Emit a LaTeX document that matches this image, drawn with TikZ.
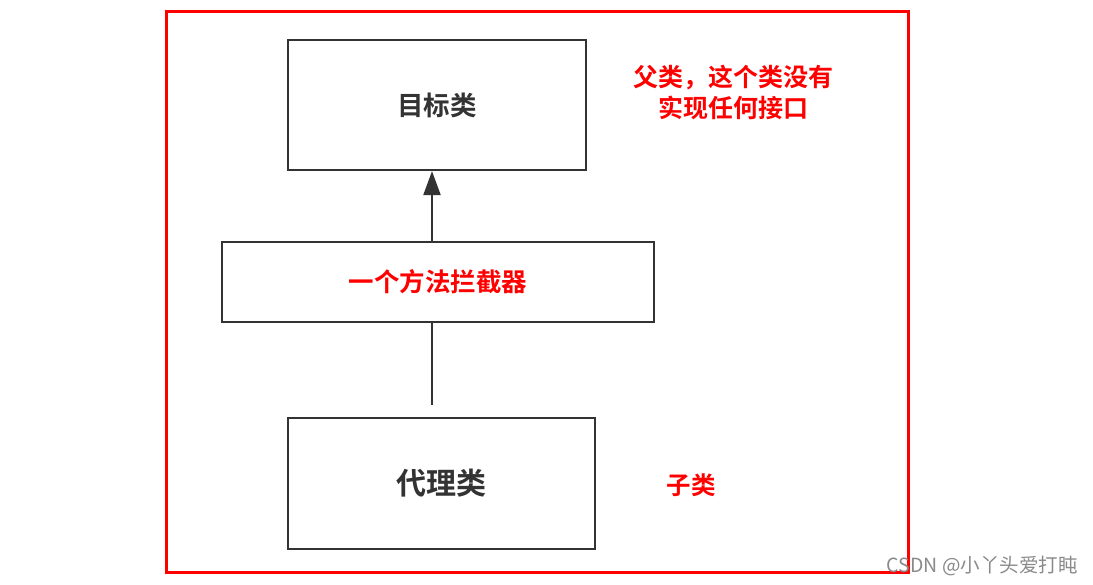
\documentclass[tikz,border=0pt]{standalone}
\usepackage{fontspec}
\setmainfont{Noto Sans CJK SC}
\newfontfamily\cjk{Noto Sans CJK SC}
\newfontfamily\cjkb{Noto Sans CJK SC Bold}
\usetikzlibrary{arrows.meta}
\definecolor{boxline}{HTML}{333333}
\definecolor{redtxt}{HTML}{FF0000}
\definecolor{wm}{HTML}{8A8A8A}
\tikzset{
  cls/.style={draw=boxline, line width=2.2pt, fill=white, inner sep=0pt},
  conn/.style={draw=boxline, line width=2.2pt},
  redlabel/.style={text=redtxt, font=\cjkb\fontsize{25}{31}\selectfont, align=center},
}
\begin{document}
\begin{tikzpicture}[x=1pt,y=-1pt]
\useasboundingbox (0,0) rectangle (1093,585);
\fill[white] (0,0) rectangle (1093,585);
% red frame
\draw[redtxt, line width=3pt] (166,12) rectangle (908,572);
% boxes
\node[cls, minimum width=298pt, minimum height=130pt] (target) at (437,105)
  {\cjkb\fontsize{26.5}{30}\selectfont\color{boxline}目标类};
\node[cls, minimum width=432pt, minimum height=80pt] (inter) at (438,282)
  {\cjkb\fontsize{25.5}{30}\selectfont\color{redtxt}一个方法拦截器};
\node[cls, minimum width=307pt, minimum height=131pt] (proxy) at (441.5,483.5)
  {\cjkb\fontsize{30}{34}\selectfont\color{boxline}代理类};
% connectors
\coordinate (pstart) at (432,405);
\draw[conn] (pstart) -- (pstart |- inter.south);
\draw[conn, -{Triangle[length=24pt,width=17pt]}] (inter.north -| pstart) -- (pstart |- target.south);
% red notes
\node[redlabel] (note1) at (733,92) {父类，这个类没有\\实现任何接口};
\node[redlabel, font=\cjkb\fontsize{24.5}{30}\selectfont] (note2) at (691,485) {子类};
% watermark
\node[text=wm, font=\cjk\fontsize{19.5}{22}\selectfont, anchor=east, inner sep=0pt] (wmk) at (1078,566) {CSDN @小丫头爱打盹};
\end{tikzpicture}
\end{document}
